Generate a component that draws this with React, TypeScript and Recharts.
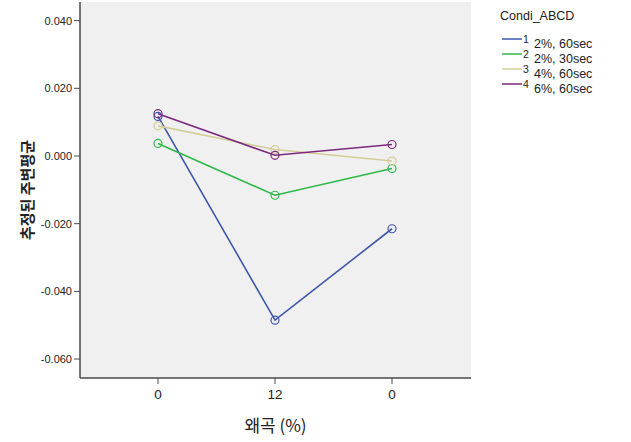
import React from "react";
import {
  CartesianGrid,
  Line,
  LineChart,
  XAxis,
  YAxis,
} from "recharts";

// 왜곡 (%) 수준 — 같은 라벨 "0"이 두 번 나오므로 위치 키를 따로 둔다
const categories = ["0", "12", "0"];
const positions = ["p1", "p2", "p3"];

const seriesKeys = ["s1", "s2", "s3", "s4"];
const seriesNums = ["1", "2", "3", "4"];
const seriesLabels = ["2%, 60sec", "2%, 30sec", "4%, 60sec", "6%, 60sec"];
const seriesColors = ["#3E58AC", "#2EB848", "#D3CE97", "#7C287D"];

const s1 = [0.0117, -0.0485, -0.0215];
const s2 = [0.0037, -0.0116, -0.0037];
const s3 = [0.0089, 0.0019, -0.0015];
const s4 = [0.0125, 0.0002, 0.0034];

const yTicks = [0.04, 0.02, 0, -0.02, -0.04, -0.06];

const data = positions.map((pos, i) => ({
  pos,
  s1: s1[i],
  s2: s2[i],
  s3: s3[i],
  s4: s4[i],
}));

const NUM_FONT = "'Liberation Sans', Arial, sans-serif";
const KR_FONT = "'Noto Sans CJK KR', sans-serif";
const BORDER = "#4a4a4a";

function LegendBox() {
  return (
    <div
      style={{
        position: "absolute",
        left: 500,
        top: 10,
        width: 130,
        fontFamily: NUM_FONT,
        color: "#222",
        lineHeight: 1,
      }}
    >
      <div style={{ fontSize: 12.5, marginBottom: 11 }}>Condi_ABCD</div>
      {seriesKeys.map((k, i) => (
        <div key={k} style={{ position: "relative", height: 15, marginLeft: 2 }}>
          <svg
            width={20}
            height={4}
            style={{ position: "absolute", left: 0, top: 3 }}
          >
            <line x1={0} y1={2} x2={20} y2={2} stroke={seriesColors[i]} strokeWidth={1.5} />
          </svg>
          <span style={{ position: "absolute", left: 21, top: 0, fontSize: 10.5 }}>
            {seriesNums[i]}
          </span>
          <span style={{ position: "absolute", left: 32, top: 4, fontSize: 12.5 }}>
            {seriesLabels[i]}
          </span>
        </div>
      ))}
    </div>
  );
}

export default function App() {
  return (
    <div
      style={{
        position: "absolute",
        left: 0,
        top: 0,
        width: 631,
        height: 442,
        background: "#fff",
      }}
    >
      <LineChart
        width={631}
        height={442}
        data={data}
        margin={{ top: 2, right: 160, bottom: 0, left: 0 }}
      >
        <CartesianGrid fill="#F0F0F0" horizontal={false} vertical={false} />
        <XAxis
          dataKey="pos"
          scale="point"
          padding={{ left: 78, right: 79 }}
          height={64}
          tickFormatter={(_v: string, i: number) => categories[i]}
          tickLine={{ stroke: BORDER }}
          tickSize={6}
          tickMargin={5}
          axisLine={{ stroke: BORDER, strokeWidth: 1.5 }}
          tick={{ fontSize: 13.5, fill: "#222", fontFamily: NUM_FONT }}
          label={{
            value: "왜곡 (%)",
            position: "insideBottom",
            offset: 10,
            style: { fontSize: 17, fill: "#222", fontFamily: KR_FONT },
          }}
        />
        <XAxis
          xAxisId="top"
          orientation="top"
          dataKey="pos"
          height={0}
          tick={false}
          tickLine={false}
          axisLine={{ stroke: BORDER, strokeWidth: 1.5 }}
        />
        <YAxis
          type="number"
          domain={[-0.0656, 0.0455]}
          ticks={yTicks}
          width={80}
          tickFormatter={(v: number) => v.toFixed(3)}
          tickLine={{ stroke: BORDER }}
          tickSize={6}
          tickMargin={2}
          axisLine={{ stroke: BORDER, strokeWidth: 1.5 }}
          tick={{ fontSize: 11, fill: "#222", fontFamily: NUM_FONT }}
          allowDataOverflow
          label={{
            value: "추정된 주변평균",
            angle: -90,
            position: "insideLeft",
            offset: 28,
            style: {
              fontSize: 15,
              fontWeight: 700,
              fill: "#222",
              fontFamily: KR_FONT,
              textAnchor: "middle",
            },
          }}
        />
        <YAxis
          yAxisId="right"
          orientation="right"
          type="number"
          domain={[-0.0656, 0.0455]}
          width={0}
          tick={false}
          tickLine={false}
          axisLine={{ stroke: BORDER, strokeWidth: 1.5 }}
        />
        {seriesKeys.map((k, i) => (
          <Line
            key={k}
            dataKey={k}
            type="linear"
            stroke={seriesColors[i]}
            strokeWidth={1.6}
            dot={{ r: 4, stroke: seriesColors[i], strokeWidth: 1.2, fill: "none" }}
            activeDot={false}
            isAnimationActive={false}
          />
        ))}
      </LineChart>
      <LegendBox />
    </div>
  );
}
